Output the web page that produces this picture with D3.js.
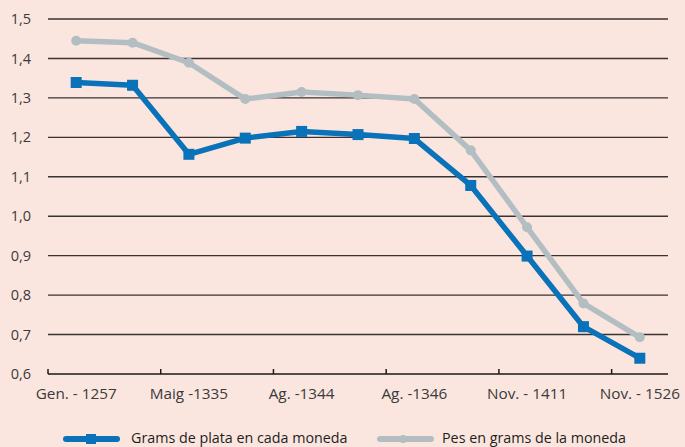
<!DOCTYPE html>
<html>
<head>
<meta charset="utf-8">
<script src="https://cdn.jsdelivr.net/npm/d3@7"></script>
<style>
  body { margin: 0; background: #fbe6df; }
  svg { display: block; font-family: "Open Sans", sans-serif; }
  .y-axis text { fill: #3a3a3a; font-size: 14.5px; }
  .x-axis text { fill: #3a3a3a; font-size: 15.3px; }
  .legend text { fill: #1e1e1e; font-size: 14.3px; }
</style>
</head>
<body>
<script>
// values
var categories = [0, 1, 2, 3, 4, 5, 6, 7, 8, 9, 10];
var tickLabels = ["Gen. - 1257", "Maig -1335", "Ag. -1344", "Ag. -1346", "Nov. - 1411", "Nov. - 1526"];
var plata = [1.339, 1.332, 1.157, 1.198, 1.215, 1.207, 1.197, 1.078, 0.899, 0.72, 0.64];
var pes = [1.445, 1.44, 1.389, 1.297, 1.315, 1.307, 1.297, 1.167, 0.972, 0.779, 0.693];
var yTicks = [0.6, 0.7, 0.8, 0.9, 1.0, 1.1, 1.2, 1.3, 1.4, 1.5];
var seriesNames = ["Grams de plata en cada moneda", "Pes en grams de la moneda"];

var width = 685, height = 447;
var blue = "#0a72b9", grey = "#b3bec3";

var svg = d3.select("body").append("svg")
            .attr("width", width)
            .attr("height", height);

svg.append("rect")
   .attr("width", width)
   .attr("height", height)
   .attr("fill", "#fbe6df");

var x = d3.scaleBand()
          .domain(categories)
          .range([48, 668]);

var y = d3.scaleLinear()
          .domain([0.6, 1.5])
          .range([374, 19]);

var locale = d3.formatLocale({decimal: ",", thousands: ".", grouping: [3], currency: ["", "€"]});
var fmt = locale.format(".1f");

// gridlines
svg.append("g")
   .attr("class", "grid")
   .selectAll("line")
   .data(yTicks.slice(1))
   .enter().append("line")
   .attr("x1", 48)
   .attr("x2", 668)
   .attr("y1", function(d) { return y(d); })
   .attr("y2", function(d) { return y(d); })
   .attr("stroke", "#3a3232")
   .attr("stroke-width", 1.4);

// y axis labels
var yAxis = d3.axisLeft(y).tickValues(yTicks).tickFormat(fmt).tickSize(0).tickPadding(0);
svg.append("g")
   .attr("class", "y-axis")
   .attr("transform", "translate(31,0)")
   .call(yAxis)
   .attr("font-family", "'Open Sans', sans-serif")
   .call(function(g) { g.select(".domain").remove(); });

// baseline with upward ticks
svg.append("line")
   .attr("x1", 48).attr("x2", 668)
   .attr("y1", y(0.6)).attr("y2", y(0.6))
   .attr("stroke", "#1a1a1a")
   .attr("stroke-width", 1.5);

var tickIdx = categories.filter(function(d) { return d % 2 == 0; });

svg.append("g")
   .selectAll("line")
   .data(tickIdx)
   .enter().append("line")
   .attr("x1", function(d) { return x(d); })
   .attr("x2", function(d) { return x(d); })
   .attr("y1", y(0.6))
   .attr("y2", y(0.6) - 5)
   .attr("stroke", "#1a1a1a")
   .attr("stroke-width", 1.5);

var xAxis = d3.axisBottom(x)
              .tickValues(tickIdx)
              .tickFormat(function(d, i) { return tickLabels[i]; })
              .tickSize(0)
              .tickPadding(14);
svg.append("g")
   .attr("class", "x-axis")
   .attr("transform", "translate(0," + y(0.6) + ")")
   .call(xAxis)
   .attr("font-family", "'Open Sans', sans-serif")
   .call(function(g) { g.select(".domain").remove(); });

var line = function(vals) {
  return d3.line()
           .x(function(d, i) { return x(categories[i]) + x.bandwidth() / 2; })
           .y(function(d) { return y(d); })(vals);
};

// grey series
svg.append("path")
   .attr("d", line(pes))
   .attr("fill", "none")
   .attr("stroke", grey)
   .attr("stroke-width", 5.5)
   .attr("stroke-linejoin", "round");

svg.append("g")
   .selectAll("circle")
   .data(pes)
   .enter().append("circle")
   .attr("cx", function(d, i) { return x(categories[i]) + x.bandwidth() / 2; })
   .attr("cy", function(d) { return y(d); })
   .attr("r", 5)
   .attr("fill", grey);

// blue series
svg.append("path")
   .attr("d", line(plata))
   .attr("fill", "none")
   .attr("stroke", blue)
   .attr("stroke-width", 5.5)
   .attr("stroke-linejoin", "round");

svg.append("g")
   .selectAll("rect")
   .data(plata)
   .enter().append("rect")
   .attr("x", function(d, i) { return x(categories[i]) + x.bandwidth() / 2 - 5.5; })
   .attr("y", function(d) { return y(d) - 5.5; })
   .attr("width", 11)
   .attr("height", 11)
   .attr("fill", blue);

// legend
var legend = svg.append("g").attr("class", "legend");
var legendX = [66, 380];
var legendText = [131, 442];
var legendY = 439;

legendX.forEach(function(lx, i) {
  var col = i == 0 ? blue : grey;
  legend.append("line")
        .attr("x1", lx).attr("x2", lx + 51)
        .attr("y1", legendY).attr("y2", legendY)
        .attr("stroke", col)
        .attr("stroke-width", 6)
        .attr("stroke-linecap", "round");
  if (i == 0) {
    legend.append("rect")
          .attr("x", lx + 20).attr("y", legendY - 5)
          .attr("width", 10).attr("height", 10)
          .attr("fill", col);
  } else {
    legend.append("circle")
          .attr("cx", lx + 23).attr("cy", legendY)
          .attr("r", 4)
          .attr("fill", col);
  }
  legend.append("text")
        .attr("x", legendText[i])
        .attr("y", legendY + 4)
        .text(seriesNames[i]);
});
</script>
</body>
</html>
